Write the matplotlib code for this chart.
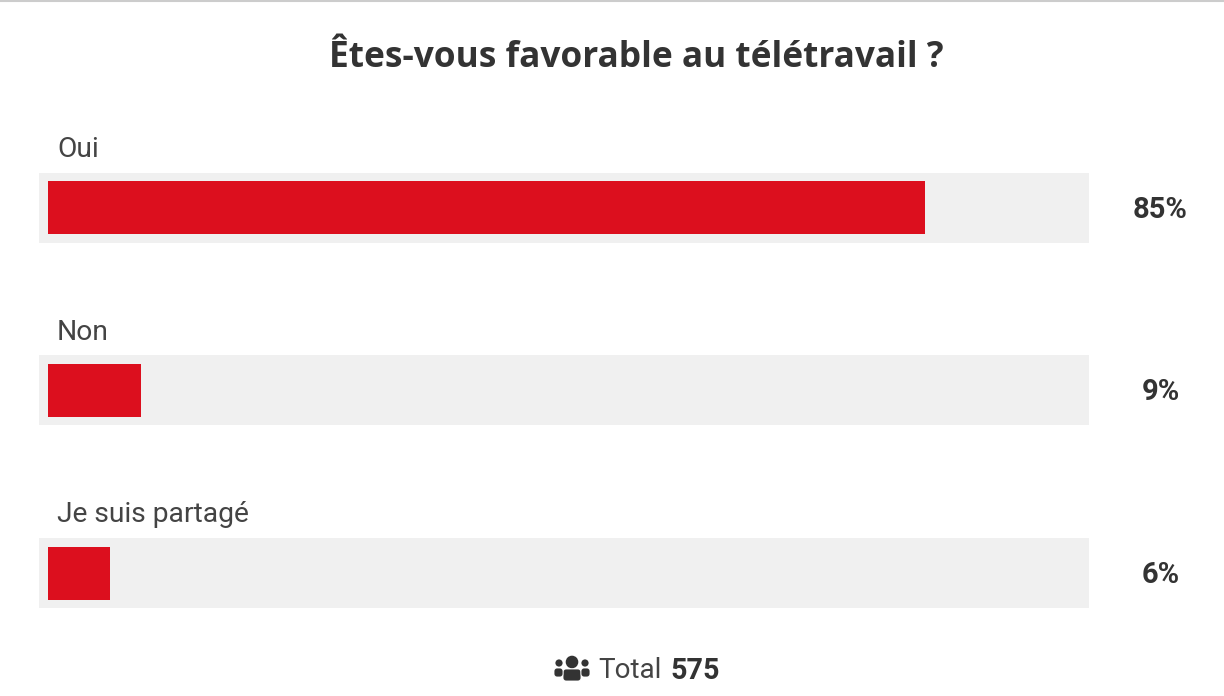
import matplotlib
matplotlib.use("Agg")
import matplotlib.pyplot as plt
from matplotlib.patches import Circle, FancyBboxPatch

titre = "Êtes-vous favorable au télétravail ?"
categories = ["Oui", "Non", "Je suis partagé"]
valeurs = [85, 9, 6]
total = 575

ROUGE = "#dc0f1e"
FOND = "#f0f0f0"
TEXTE = "#333333"

W, H = 1224, 696
fig = plt.figure(figsize=(W / 100, H / 100), dpi=100)

# axe sur toute la figure : 0 % a x=48 px, 100 % a x=1080 px, ecart de 182.75 px entre barres
ax = fig.add_axes([0, 0, 1, 1])
px_x = 100 / 1032
px_y = 1 / 182.75
ax.set_xlim(-48 * px_x, (W - 48) * px_x)
ax.set_ylim((H - 207.5) * px_y, -207.5 * px_y)
ax.axis("off")

pos = list(range(len(categories)))

# piste grise derriere chaque barre
ax.barh(pos, [100 + 18 * px_x] * 3, left=-9 * px_x, height=70 * px_y, color=FOND)
ax.barh(pos, valeurs, height=53 * px_y, color=ROUGE)

for i, (cat, v) in enumerate(zip(categories, valeurs)):
    ax.text(9 * px_x, i - 58 * px_y, cat, fontfamily="Roboto", fontsize=20.3,
            color="#444444", ha="left", va="center")
    ax.text(1112.5 * px_x, i + 2 * px_y, f"{v}%", fontfamily="Roboto", fontsize=21,
            fontweight="bold", color=TEXTE, ha="center", va="center")

fig.text(636 / W, 1 - 58 / H, titre, fontfamily="Open Sans", fontweight="bold",
         fontsize=25.4, color=TEXTE, ha="center", va="center")

# pied de graphique
fig.text(598 / W, 1 - 671 / H, "Total", fontfamily="Roboto", fontsize=20,
         color="#444444", ha="left", va="center")
fig.text(670 / W, 1 - 671 / H, str(total), fontfamily="Roboto", fontsize=20.6,
         fontweight="bold", color=TEXTE, ha="left", va="center")

# icone "utilisateurs" en coordonnees pixels
icone = fig.add_axes([0, 0, 1, 1])
icone.set_xlim(0, W)
icone.set_ylim(H, 0)
icone.axis("off")
icone.patch.set_alpha(0)
for cx, cy, r in [(572, 662, 6.3), (559, 663, 3.6), (585, 663, 3.6)]:
    icone.add_patch(Circle((cx, cy), r, color=TEXTE, lw=0))
for x0, y0, w, h in [(563, 669, 18, 12), (554, 668, 9, 9), (581, 668, 9, 9)]:
    icone.add_patch(FancyBboxPatch((x0, y0), w, h, boxstyle="round,pad=0,rounding_size=3",
                                   color=TEXTE, ec="white", lw=0.6))

# filet gris en haut de la capture
icone.plot([0, W], [0.5, 0.5], color="#cccccc", lw=1.5)

fig.savefig("out.png", dpi=100)
